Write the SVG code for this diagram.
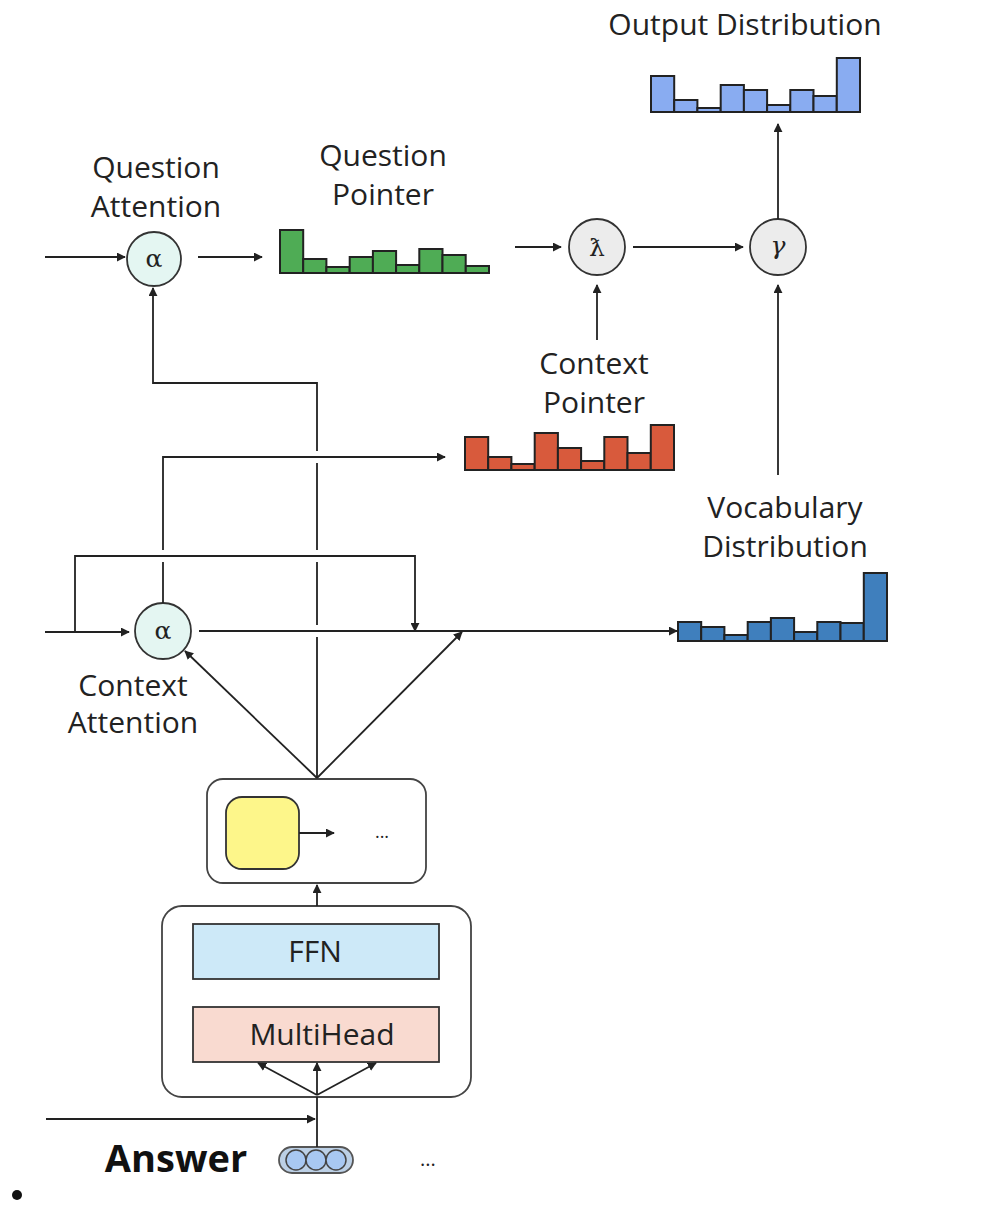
<svg xmlns="http://www.w3.org/2000/svg" width="988" height="1212" viewBox="0 0 988 1212">
<style>
.t{font-family:"Open Sans","Liberation Sans",sans-serif;font-size:30px;fill:#222;text-anchor:middle}
.ln{fill:none;stroke:#222;stroke-width:1.8}
.bar{stroke:#222;stroke-width:2}
.g rect{fill:#4fac55}
.r rect{fill:#d85a3c}
.o rect{fill:#89acf1}
.v rect{fill:#3f7fbd}
.sym{font-family:"DejaVu Serif","Liberation Serif",serif;font-size:25px;fill:#222;text-anchor:middle}
</style>
<defs>
<marker id="ah" viewBox="0 0 10 10" refX="9" refY="5" markerWidth="9" markerHeight="9" markerUnits="userSpaceOnUse" orient="auto">
<path d="M0,0 L10,5 L0,10 z" fill="#222"/>
</marker>
</defs>
<rect width="988" height="1212" fill="#fff"/>

<g id="output-distribution">
<text class="t" x="745" y="35">Output Distribution</text>
<g class="o bar">
<rect x="651" y="76" width="23.2" height="36"/>
<rect x="674.2" y="100" width="23.2" height="12"/>
<rect x="697.4" y="108" width="23.2" height="4"/>
<rect x="720.7" y="85" width="23.2" height="27"/>
<rect x="743.9" y="90" width="23.2" height="22"/>
<rect x="767.1" y="105" width="23.2" height="7"/>
<rect x="790.3" y="90" width="23.2" height="22"/>
<rect x="813.5" y="96" width="23.2" height="16"/>
<rect x="836.8" y="58" width="23.2" height="54"/>
</g>
</g>

<g id="question-attention">
<text class="t" x="156" y="178">Question</text>
<text class="t" x="156" y="217">Attention</text>
<circle cx="154" cy="259" r="27" fill="#e4f6f2" stroke="#333" stroke-width="1.8"/>
<text class="sym" x="154" y="267">α</text>
</g>

<g id="question-pointer">
<text class="t" x="383" y="166">Question</text>
<text class="t" x="383" y="205">Pointer</text>
<g class="g bar">
<rect x="280" y="230" width="23.2" height="43"/>
<rect x="303.2" y="259" width="23.2" height="14"/>
<rect x="326.4" y="267" width="23.2" height="6"/>
<rect x="349.7" y="257" width="23.2" height="16"/>
<rect x="372.9" y="251" width="23.2" height="22"/>
<rect x="396.1" y="265" width="23.2" height="8"/>
<rect x="419.3" y="249" width="23.2" height="24"/>
<rect x="442.5" y="255" width="23.2" height="18"/>
<rect x="465.8" y="266" width="23.2" height="7"/>
</g>
</g>

<g id="lambda">
<circle cx="597" cy="247" r="28" fill="#ececec" stroke="#333" stroke-width="1.8"/>
<text class="sym" x="597" y="256">ƛ</text>
</g>

<g id="gamma">
<circle cx="778" cy="247" r="28" fill="#ececec" stroke="#333" stroke-width="1.8"/>
<text class="sym" x="778" y="254" font-style="italic">γ</text>
</g>

<g id="context-pointer">
<text class="t" x="594" y="374">Context</text>
<text class="t" x="594" y="413">Pointer</text>
<g class="r bar">
<rect x="465" y="437" width="23.2" height="33"/>
<rect x="488.2" y="457" width="23.2" height="13"/>
<rect x="511.4" y="464" width="23.2" height="6"/>
<rect x="534.7" y="433" width="23.2" height="37"/>
<rect x="557.9" y="448" width="23.2" height="22"/>
<rect x="581.1" y="461" width="23.2" height="9"/>
<rect x="604.3" y="437" width="23.2" height="33"/>
<rect x="627.5" y="453" width="23.2" height="17"/>
<rect x="650.8" y="425" width="23.2" height="45"/>
</g>
</g>

<g id="context-attention">
<circle cx="163" cy="631" r="28" fill="#e4f6f2" stroke="#333" stroke-width="1.8"/>
<text class="sym" x="163" y="639">α</text>
<text class="t" x="133" y="696">Context</text>
<text class="t" x="133" y="733">Attention</text>
</g>

<g id="vocabulary-distribution">
<text class="t" x="785" y="518">Vocabulary</text>
<text class="t" x="785" y="557">Distribution</text>
<g class="v bar">
<rect x="678" y="622" width="23.2" height="19"/>
<rect x="701.2" y="627" width="23.2" height="14"/>
<rect x="724.4" y="635" width="23.2" height="6"/>
<rect x="747.7" y="622" width="23.2" height="19"/>
<rect x="770.9" y="618" width="23.2" height="23"/>
<rect x="794.1" y="632" width="23.2" height="9"/>
<rect x="817.3" y="622" width="23.2" height="19"/>
<rect x="840.5" y="623" width="23.2" height="18"/>
<rect x="863.8" y="573" width="23.2" height="68"/>
</g>
</g>

<g id="decoder-output">
<rect x="207" y="779" width="219" height="104" rx="16" fill="#fff" stroke="#444" stroke-width="1.8"/>
<rect x="226" y="797" width="73" height="72" rx="16" fill="#fdf68a" stroke="#333" stroke-width="1.8"/>
<text x="382" y="838" font-family="Open Sans, Liberation Sans, sans-serif" font-size="18" fill="#222" text-anchor="middle">...</text>
</g>

<g id="decoder-block">
<rect x="162" y="906" width="309" height="191" rx="20" fill="#fff" stroke="#444" stroke-width="1.8"/>
<rect x="193" y="924" width="246" height="55" fill="#cde9f8" stroke="#333" stroke-width="1.8"/>
<text class="t" x="315" y="962">FFN</text>
<rect x="193" y="1007" width="246" height="55" fill="#f9dad0" stroke="#333" stroke-width="1.8"/>
<text class="t" x="322" y="1045">MultiHead</text>
</g>

<g id="answer">
<text x="176" y="1172" font-family="Open Sans, Liberation Sans, sans-serif" font-size="38" font-weight="bold" fill="#111" text-anchor="middle">Answer</text>
<rect x="279" y="1147" width="74" height="26" rx="13" fill="#bcd0e6" stroke="#555" stroke-width="1.8"/>
<circle cx="296" cy="1160" r="10" fill="#a8c8f2" stroke="#444" stroke-width="1.5"/>
<circle cx="316" cy="1160" r="10" fill="#a8c8f2" stroke="#444" stroke-width="1.5"/>
<circle cx="336" cy="1160" r="10" fill="#a8c8f2" stroke="#444" stroke-width="1.5"/>
<text x="428" y="1166" font-family="Open Sans, Liberation Sans, sans-serif" font-size="20" fill="#222" text-anchor="middle">...</text>
</g>

<circle id="bullet" cx="17" cy="1195" r="5" fill="#111"/>

<g id="connectors">
<path class="ln" d="M45 257 H125" marker-end="url(#ah)"/>
<path class="ln" d="M198 257 H262" marker-end="url(#ah)"/>
<path class="ln" d="M515 247 H561" marker-end="url(#ah)"/>
<path class="ln" d="M633 247 H743" marker-end="url(#ah)"/>
<path class="ln" d="M597 340 V285" marker-end="url(#ah)"/>
<path class="ln" d="M778 475 V285" marker-end="url(#ah)"/>
<path class="ln" d="M778 219 V124" marker-end="url(#ah)"/>
<path class="ln" d="M317 778 V637 M317 625 V562 M317 550 V463"/>
<path class="ln" d="M317 451 V383 H153 V288" marker-end="url(#ah)"/>
<path class="ln" d="M163 603 V562"/>
<path class="ln" d="M163 550 V457 H445" marker-end="url(#ah)"/>
<path class="ln" d="M75 632 V556 H415 V631" marker-end="url(#ah)"/>
<path class="ln" d="M45 632 H129" marker-end="url(#ah)"/>
<path class="ln" d="M199 631 H677" marker-end="url(#ah)"/>
<path class="ln" d="M317 778 L185 651" marker-end="url(#ah)"/>
<path class="ln" d="M317 778 L462 632" marker-end="url(#ah)"/>
<path class="ln" d="M317 906 V885" marker-end="url(#ah)"/>
<path class="ln" d="M317 1095 L258 1063" marker-end="url(#ah)"/>
<path class="ln" d="M317 1095 V1063" marker-end="url(#ah)"/>
<path class="ln" d="M317 1095 L376 1063" marker-end="url(#ah)"/>
<path class="ln" d="M317 1147 V1097"/>
<path class="ln" d="M46 1119 H315" marker-end="url(#ah)"/>
<path class="ln" d="M299 833 H334" marker-end="url(#ah)"/>
</g>
</svg>
